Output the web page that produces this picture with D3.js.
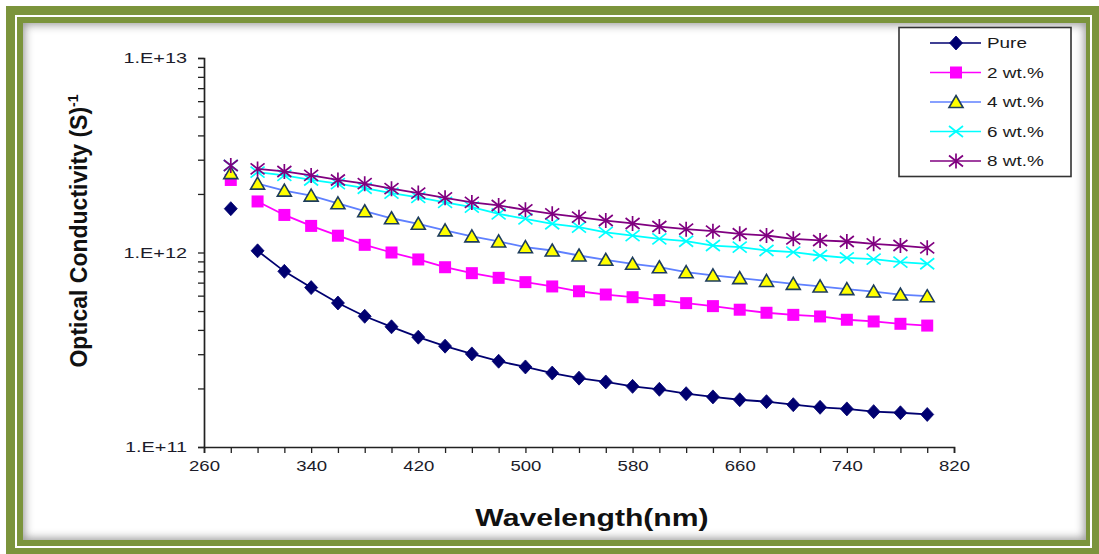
<!DOCTYPE html>
<html>
<head>
<meta charset="utf-8">
<script src="https://cdn.jsdelivr.net/npm/d3@7"></script>
<style>
  html, body { margin: 0; padding: 0; background: #ffffff; }
  body { width: 1099px; height: 554px; position: relative; overflow: hidden; }
  #outer { position: absolute; left: 6px; top: 6px; width: 1093px; height: 548px; background: #7b943c; }
  #line { position: absolute; left: 15px; top: 15px; width: 1077px; height: 533px; box-sizing: border-box; border: 2px solid #ffffff; }
  #inner { position: absolute; left: 23px; top: 23px; width: 1063px; height: 517px; background: #ffffff;
           box-shadow: inset 0 0 9px 2px rgba(60,60,60,0.5); }
  svg { position: absolute; left: 0; top: 0; }
  text { font-family: "Liberation Sans", Arial, sans-serif; }
</style>
</head>
<body>
<div id="outer"></div>
<div id="line"></div>
<div id="inner"></div>
<svg id="chart" width="1099" height="554"></svg>
<script>
// ---------------- data ----------------
const wavelengths = [280,300,320,340,360,380,400,420,440,460,480,500,520,540,560,580,600,620,640,660,680,700,720,740,760,780,800];
const pure = [1.68e12,1.02e12,0.80e12,0.66e12,0.55e12,0.47e12,0.415e12,0.367e12,0.330e12,0.301e12,0.276e12,0.258e12,0.240e12,0.226e12,0.216e12,0.205e12,0.198e12,0.188e12,0.181e12,0.175e12,0.171e12,0.165e12,0.160e12,0.157e12,0.152e12,0.150e12,0.147e12];
const wt2 = [2.36e12,1.83e12,1.56e12,1.37e12,1.22e12,1.095e12,1.00e12,0.921e12,0.840e12,0.783e12,0.741e12,0.704e12,0.669e12,0.632e12,0.608e12,0.589e12,0.569e12,0.549e12,0.530e12,0.508e12,0.490e12,0.478e12,0.469e12,0.451e12,0.442e12,0.430e12,0.421e12];
const wt4 = [2.56e12,2.26e12,2.08e12,1.96e12,1.79e12,1.63e12,1.50e12,1.405e12,1.30e12,1.21e12,1.14e12,1.065e12,1.024e12,0.965e12,0.917e12,0.875e12,0.840e12,0.792e12,0.762e12,0.738e12,0.714e12,0.690e12,0.669e12,0.648e12,0.630e12,0.608e12,0.596e12];
const wt6 = [2.80e12,2.59e12,2.49e12,2.36e12,2.26e12,2.14e12,2.02e12,1.92e12,1.81e12,1.71e12,1.58e12,1.49e12,1.405e12,1.35e12,1.27e12,1.22e12,1.176e12,1.143e12,1.086e12,1.065e12,1.024e12,1.004e12,0.965e12,0.939e12,0.924e12,0.892e12,0.875e12];
const wt8 = [2.80e12,2.69e12,2.61e12,2.49e12,2.36e12,2.26e12,2.13e12,2.02e12,1.91e12,1.81e12,1.745e12,1.657e12,1.58e12,1.52e12,1.46e12,1.41e12,1.36e12,1.318e12,1.287e12,1.248e12,1.223e12,1.176e12,1.153e12,1.139e12,1.108e12,1.086e12,1.057e12];
const seriesNames = ["Pure","2 wt.%","4 wt.%","6 wt.%","8 wt.%"];
const connectedFrom = 300;               // first point (280 nm) is drawn unconnected
const xTickLabels = [260,340,420,500,580,660,740,820];
const yTickLabels = ["1.E+11","1.E+12","1.E+13"];
const yDecades = [1e11,1e12,1e13];
const xTitle = "Wavelength(nm)";
const yTitle = "Optical Conductivity (S)";
const yTitleSup = "-1";

// ---------------- styles ----------------
const styles = [
  {line:"#000070", marker:"diamond",  fill:"#000070", stroke:"#000070"},
  {line:"#ff00ff", marker:"square",   fill:"#ff00ff", stroke:"#ff00ff"},
  {line:"#5f80ff", marker:"triangle", fill:"#ffff00", stroke:"#1d3c5c"},
  {line:"#00ffff", marker:"x",        fill:"none",    stroke:"#00ffff"},
  {line:"#800080", marker:"star",     fill:"none",    stroke:"#800080"}
];
const seriesValues = [pure, wt2, wt4, wt6, wt8];
const STRETCH = 1.28;

const svg = d3.select("#chart");
const x = d3.scaleLinear().domain([260, 820]).range([204, 954]);
const y = d3.scaleLog().domain([1e11, 1e13]).range([447, 58]);

function stretch(sel, k) {
  sel.each(function() {
    const w = this.getComputedTextLength();
    if (w > 0) d3.select(this).attr("textLength", w * k).attr("lengthAdjust", "spacingAndGlyphs");
  });
}

// ---------------- axes ----------------
const yTicks = [];
yDecades.slice(0, -1).forEach(d => { for (let m = 1; m < 10; m++) yTicks.push(d * m); });
yTicks.push(yDecades[yDecades.length - 1]);

const yAxis = d3.axisLeft(y).tickValues(yTicks).tickSize(6).tickPadding(11)
  .tickFormat(d => { const i = yDecades.indexOf(d); return i >= 0 ? yTickLabels[i] : ""; });
const gy = svg.append("g").attr("transform", "translate(204,0)").call(yAxis);

const xTicks = d3.range(260, 821, 20);
const xAxis = d3.axisBottom(x).tickValues(xTicks).tickSize(6).tickPadding(8)
  .tickFormat(d => xTickLabels.includes(d) ? String(d) : "");
const gx = svg.append("g").attr("transform", "translate(0,447)").call(xAxis);

[gx, gy].forEach(g => {
  g.select(".domain").attr("stroke", "#222").attr("stroke-width", 1.7);
  g.selectAll(".tick line").attr("stroke", "#222").attr("stroke-width", 1.3);
  g.selectAll(".tick text").attr("fill", "#1c1c2a").attr("font-family", "'Liberation Sans', Arial, sans-serif");
});
gy.selectAll(".tick text").attr("font-size", 15.5);
gx.selectAll(".tick text").attr("font-size", 14.5);
stretch(gy.selectAll(".tick text"), STRETCH);
stretch(gx.selectAll(".tick text"), STRETCH);

// ---------------- titles ----------------
const xt = svg.append("text").attr("x", 592).attr("y", 526).attr("text-anchor", "middle")
  .attr("font-size", 23).attr("font-weight", "bold").attr("fill", "#111").text(xTitle);
stretch(xt, 1.31);

const yt = svg.append("text").attr("transform", "translate(87,231) rotate(-90)")
  .attr("text-anchor", "middle").attr("font-size", 23).attr("font-weight", "bold").attr("fill", "#111");
yt.append("tspan").text(yTitle);
yt.append("tspan").attr("font-size", 14).attr("dy", -9).text(yTitleSup);

// ---------------- markers ----------------
function drawMarker(g, st, cx, cy) {
  const t = st.marker;
  if (t === "diamond") {
    g.append("path").attr("d", `M${cx},${cy-7}L${cx+6.5},${cy}L${cx},${cy+7}L${cx-6.5},${cy}Z`)
      .attr("fill", st.fill).attr("stroke", st.stroke).attr("stroke-width", 0.8);
  } else if (t === "square") {
    g.append("rect").attr("x", cx - 6).attr("y", cy - 6).attr("width", 12).attr("height", 12)
      .attr("fill", st.fill);
  } else if (t === "triangle") {
    g.append("path").attr("d", `M${cx},${cy-6.5}L${cx+7},${cy+5.5}L${cx-7},${cy+5.5}Z`)
      .attr("fill", st.fill).attr("stroke", st.stroke).attr("stroke-width", 1.6).attr("stroke-linejoin", "miter");
  } else if (t === "x") {
    g.append("path").attr("d", `M${cx-7},${cy-5.5}L${cx+7},${cy+5.5}M${cx-7},${cy+5.5}L${cx+7},${cy-5.5}`)
      .attr("stroke", st.stroke).attr("stroke-width", 1.7).attr("fill", "none");
  } else if (t === "star") {
    g.append("path").attr("d", `M${cx-7},${cy-5.5}L${cx+7},${cy+5.5}M${cx-7},${cy+5.5}L${cx+7},${cy-5.5}M${cx},${cy-7.5}L${cx},${cy+7.5}`)
      .attr("stroke", st.stroke).attr("stroke-width", 1.7).attr("fill", "none");
  }
}

// ---------------- series ----------------
const line = d3.line().x(d => x(d[0])).y(d => y(d[1]));
seriesValues.forEach((vals, i) => {
  const st = styles[i];
  const pts = wavelengths.map((w, j) => [w, vals[j]]);
  const g = svg.append("g");
  g.append("path").datum(pts.filter(p => p[0] >= connectedFrom)).attr("d", line)
    .attr("fill", "none").attr("stroke", st.line).attr("stroke-width", 1.8);
  pts.forEach(p => drawMarker(g, st, x(p[0]), y(p[1])));
});

// ---------------- legend ----------------
const lg = svg.append("g");
lg.append("rect").attr("x", 899).attr("y", 27.5).attr("width", 172).attr("height", 149)
  .attr("fill", "#fff").attr("stroke", "#333").attr("stroke-width", 1.6);
seriesNames.forEach((name, i) => {
  const cy = 43 + i * 29.5;
  const st = styles[i];
  lg.append("line").attr("x1", 930).attr("x2", 981).attr("y1", cy).attr("y2", cy)
    .attr("stroke", st.line).attr("stroke-width", 1.6);
  drawMarker(lg, st, 956, cy);
  const t = lg.append("text").attr("x", 987).attr("y", cy).attr("dy", "0.36em")
    .attr("font-size", 14).attr("fill", "#1a1a1a").text(name);
  stretch(t, 1.35);
});
</script>
</body>
</html>
